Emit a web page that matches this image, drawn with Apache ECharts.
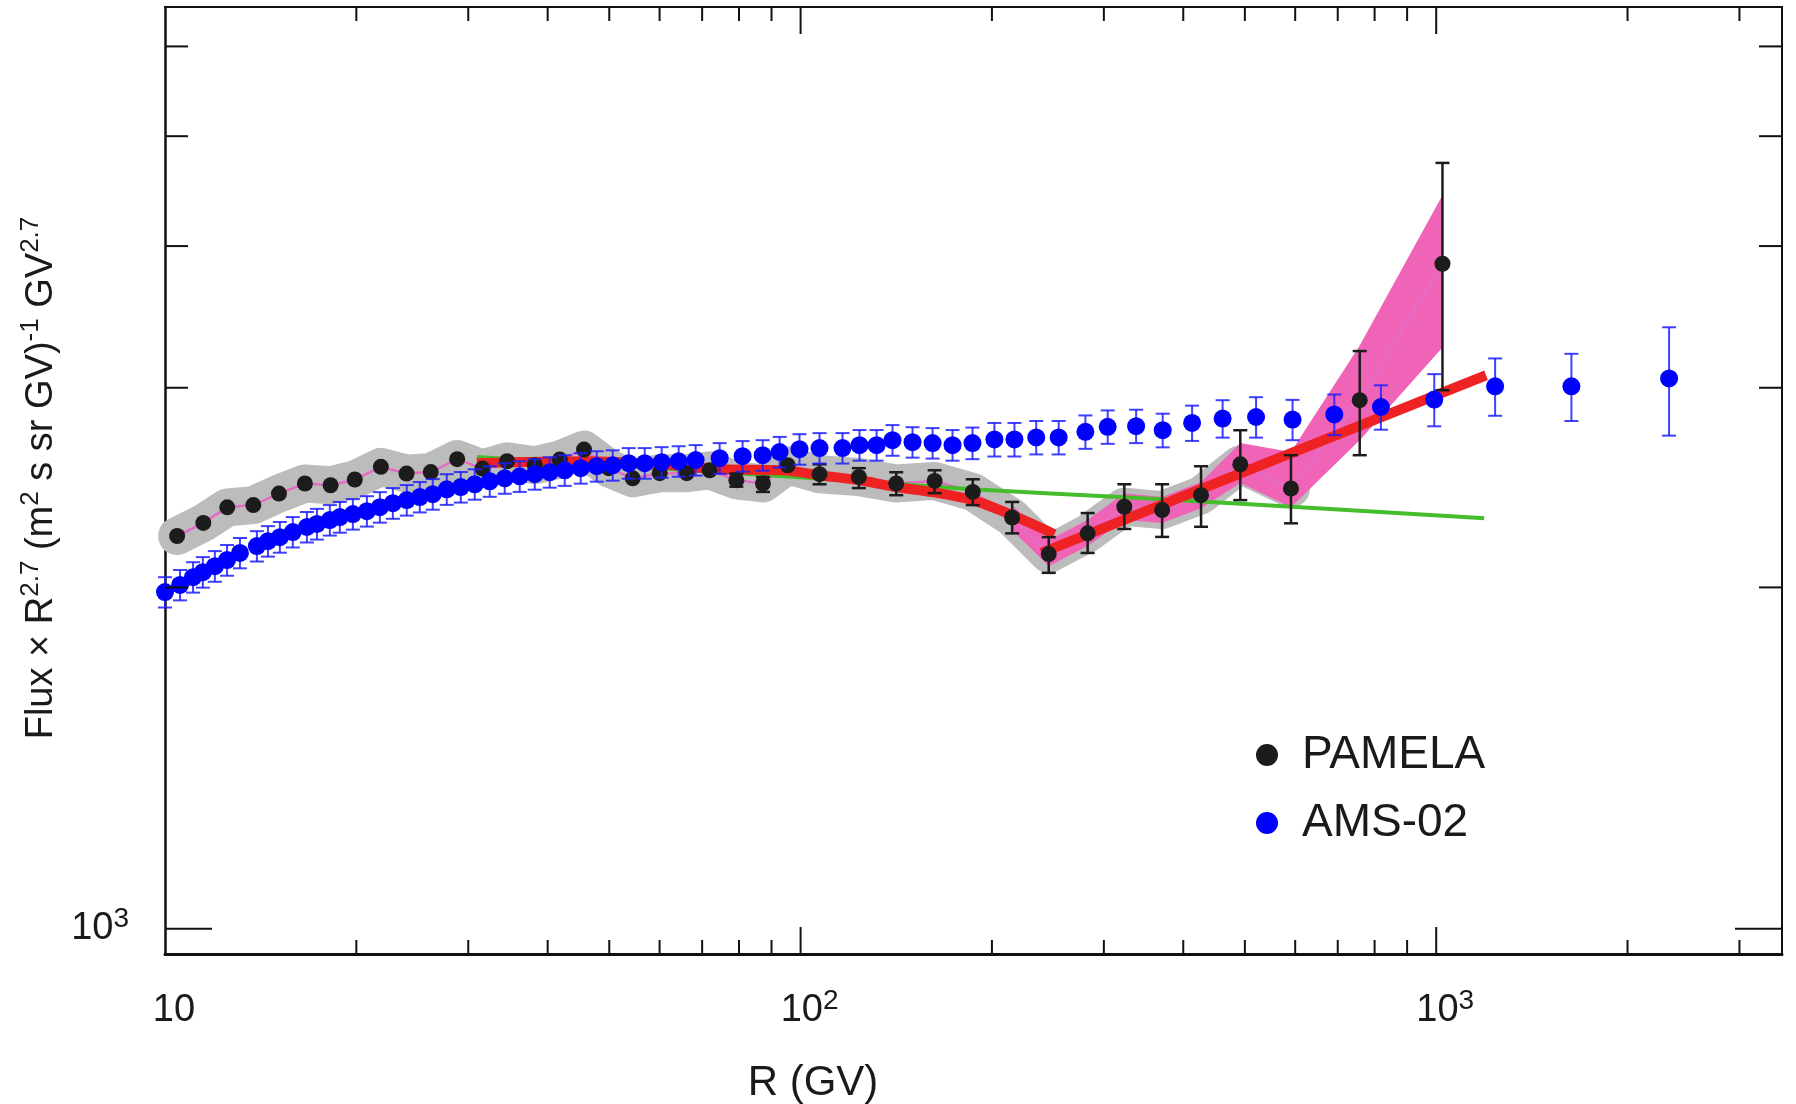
<!DOCTYPE html>
<html><head><meta charset="utf-8">
<script src="https://cdn.jsdelivr.net/npm/echarts@6/dist/echarts.min.js"></script>
<style>html,body{margin:0;padding:0;background:#fff}#chart{width:1796px;height:1104px}</style>
</head><body><div id="chart"></div>
<script>
// ---------------- data ----------------
const xMin = 10, xMax = 3500, yMin = 950, yMax = 6500;
const xMajorTicks = [100, 1000];
const xMinorTicks = [20,30,40,50,60,70,80,90,200,300,400,500,600,700,800,900,2000,3000];
const yMajorTicks = [1000];
const yMinorTicks = [2000,3000,4000,5000,6000];

// PAMELA
const pamR = [10.45,11.49,12.53,13.77,15.11,16.60,18.22,19.89,21.86,23.99,26.19,28.82,31.59,34.53,38.17,41.79,45.63,49.90,54.43,60.03,66.21,71.93,79.23,87.25,95.41,107.1,123.5,141.4,162.5,186.6,215.2,245.7,282.9,323.1,370.5,426.6,491.8,590.9,758.0,1023];
const pamF = [2220,2280,2353,2364,2420,2470,2461,2490,2555,2520,2528,2595,2546,2584,2563,2593,2646,2548,2496,2522,2522,2537,2486,2470,2563,2517,2503,2470,2483,2428,2305,2140,2232,2356,2340,2412,2568,2445,2925,3859];
const pamLo = [null,null,null,null,null,null,null,null,null,null,null,null,null,null,null,null,null,null,null,null,null,null,2454,2428,null,2466,2447,2412,2422,2364,2232,2060,2145,2252,2216,2262,2388,2278,2616,2985];
const pamHi = [null,null,null,null,null,null,null,null,null,null,null,null,null,null,null,null,null,null,null,null,null,null,2520,2503,null,2568,2548,2527,2537,2491,2379,2215,2326,2466,2466,2558,2752,2616,3232,4736];
const pamBandCount = 38; // grey uncertainty band covers the first 38 points

// PAMELA high-rigidity band
const pinkR  = [215.2,245.7,282.9,323.1,370.5,426.6,491.8,590.9,758.0,1023];
const pinkHi = [2364,2202,2293,2422,2403,2477,2681,2633,3269,4434];
const pinkLo = [2247,2088,2175,2293,2279,2349,2472,2354,2697,3256];

// AMS-02
const amsR = [10.0,10.56,11.07,11.47,11.98,12.52,13.12,13.95,14.52,15.16,15.89,16.72,17.34,18.17,18.84,19.75,20.78,21.78,22.83,24.01,25.17,26.38,27.75,29.20,30.71,32.43,34.24,36.15,38.17,40.30,42.55,45.09,47.78,50.63,53.65,56.85,60.45,64.29,68.37,74.59,81.05,87.17,92.68,99.6,107.1,116.4,123.8,131.7,139.5,150.0,161.3,173.4,186.4,201.8,217.0,234.8,254.7,280.6,304.2,337.2,371.3,413.0,461.3,520.7,594.3,691.3,818.5,993,1238,1632,2325];
const amsF = [1981,2010,2042,2063,2088,2114,2145,2175,2197,2215,2238,2261,2275,2293,2307,2321,2335,2354,2373,2388,2403,2417,2441,2452,2466,2481,2496,2506,2517,2527,2537,2548,2558,2563,2574,2574,2579,2584,2590,2600,2611,2616,2633,2648,2654,2654,2670,2670,2697,2686,2681,2670,2681,2701,2701,2712,2712,2743,2771,2775,2752,2793,2818,2827,2812,2842,2885,2929,3009,3009,3057];
const amsErr = [61,62,63,64,65,66,66,67,68,69,69,70,71,71,72,72,72,73,74,74,74,75,76,76,76,77,77,78,78,78,79,79,79,79,80,80,80,80,80,81,81,81,82,82,82,82,83,83,84,83,83,83,86,92,92,92,92,93,94,94,94,100,107,116,115,117,130,155,175,205,335];

// fits
const redR1 = [30.95,46.08,60.03,75.42,93.7,107.1,123.8,141.4,161.3,186.4,215.4,250.8];
const redF1 = [2574,2584,2568,2542,2537,2512,2486,2452,2427,2388,2316,2228];
const redR2 = [239.3,1198];
const redF2 = [2145,3077];
const greenR = [30.95,99.6,186.4,317.4,508.2,1190];
const greenF = [2606,2502,2441,2403,2368,2302];

// ---------------- chart ----------------
const FONT = "'Liberation Sans', Arial, Helvetica, sans-serif";
const zip = (a, b) => a.map((v, i) => [v, b[i]]);

function errRender(color, lw, cap) {
  return function (params, api) {
    const x = api.value(0), lo = api.value(1), hi = api.value(2);
    const a = api.coord([x, hi]), b = api.coord([x, lo]);
    const st = { stroke: color, lineWidth: lw };
    return { type: 'group', children: [
      { type: 'line', shape: { x1: a[0], y1: a[1], x2: b[0], y2: b[1] }, style: st },
      { type: 'line', shape: { x1: a[0] - cap / 2, y1: a[1], x2: a[0] + cap / 2, y2: a[1] }, style: st },
      { type: 'line', shape: { x1: b[0] - cap / 2, y1: b[1], x2: b[0] + cap / 2, y2: b[1] }, style: st }
    ]};
  };
}

const pamErrData = [];
pamR.forEach((r, i) => { if (pamLo[i] != null) pamErrData.push([r, pamLo[i], pamHi[i]]); });
const amsErrData = amsR.map((r, i) => [r, amsF[i] - amsErr[i], amsF[i] + amsErr[i]]);

function logLabel(v) {
  const l = Math.log10(v), e = Math.round(l);
  if (Math.abs(l - e) > 1e-6) return '';
  return e === 1 ? '{b|10}' : '{b|10}{s|' + e + '}';
}
const labelRich = {
  b: { fontSize: 38, lineHeight: 47, fontFamily: FONT, color: '#1a1a1a' },
  s: { fontSize: 28, lineHeight: 20, verticalAlign: 'top', fontFamily: FONT, color: '#1a1a1a' }
};

const axisLineStyle = (w) => ({ show: true, lineStyle: { color: '#111', width: w } });

const option = {
  animation: false,
  backgroundColor: '#fff',
  grid: { left: 165, right: 14, top: 7, bottom: 150, containLabel: false },
  xAxis: [
    { type: 'log', min: xMin, max: xMax, position: 'bottom', axisLine: axisLineStyle(3), axisTick: { show: false },
      splitLine: { show: false }, minorTick: { show: false },
      axisLabel: { show: true, margin: 33, formatter: logLabel, rich: labelRich, padding: [0, 0, 0, 18], showMinLabel: true, showMaxLabel: false } },
    { type: 'log', min: xMin, max: xMax, position: 'top', axisLine: axisLineStyle(2), axisTick: { show: false },
      splitLine: { show: false }, axisLabel: { show: false } }
  ],
  yAxis: [
    { type: 'log', min: yMin, max: yMax, position: 'left', axisLine: axisLineStyle(2.5), axisTick: { show: false },
      splitLine: { show: false },
      axisLabel: { show: true, margin: 36, formatter: logLabel, rich: labelRich, showMinLabel: false, showMaxLabel: false } },
    { type: 'log', min: yMin, max: yMax, position: 'right', axisLine: axisLineStyle(2), axisTick: { show: false },
      splitLine: { show: false }, axisLabel: { show: false } }
  ],
  legend: {
    left: 1251, top: 727, orient: 'vertical', itemWidth: 60, itemHeight: 22, itemGap: 22,
    selectedMode: false,
    data: [{ name: 'PAMELA', icon: 'circle' }, { name: 'AMS-02', icon: 'circle' }],
    textStyle: { fontSize: 46, lineHeight: 46, color: '#1a1a1a', fontFamily: FONT }
  },
  graphic: [
    { type: 'text', x: 813, y: 1083, silent: true,
      style: { text: 'R (GV)', fontSize: 42, fontFamily: FONT, fill: '#1a1a1a', align: 'center', verticalAlign: 'middle' } },
    { type: 'text', x: 42, y: 478, rotation: Math.PI / 2, silent: true,
      style: { text: 'Flux \u00d7 R{s|2.7} (m{s|2} s sr GV){s|-1} GV{s|2.7}', fontSize: 38, lineHeight: 48, fontFamily: FONT, fill: '#1a1a1a',
        align: 'center', verticalAlign: 'middle',
        rich: { s: { fontSize: 26, lineHeight: 20, verticalAlign: 'top', fontFamily: FONT, fill: '#1a1a1a' } } } }
  ],
  series: [
    { type: 'line', name: 'band', data: zip(pamR, pamF).slice(0, pamBandCount), symbol: 'none', silent: true, z: 1,
      lineStyle: { color: '#bcbcbc', width: 38, cap: 'round', join: 'round' } },
    { type: 'custom', name: 'pinkband', silent: true, z: 2, clip: false,
      data: [[pinkR[0], pinkLo[0]]],
      renderItem: (params, api) => {
        const up = pinkR.map((r, i) => api.coord([r, pinkHi[i]]));
        const dn = pinkR.map((r, i) => api.coord([r, pinkLo[i]])).reverse();
        return { type: 'polygon', shape: { points: up.concat(dn) }, style: { fill: '#f064b8' } };
      } },
    { type: 'line', name: 'pamline', data: zip(pamR, pamF), symbol: 'none', silent: true, z: 3,
      lineStyle: { color: '#e56cc6', width: 2.5 } },
    { type: 'line', name: 'green', data: zip(greenR, greenF), symbol: 'none', silent: true, z: 4, smooth: 0.3,
      lineStyle: { color: '#46bd2c', width: 4 } },
    { type: 'line', name: 'red1', data: zip(redR1, redF1), symbol: 'none', silent: true, z: 5, smooth: 0.3,
      lineStyle: { color: '#ee2222', width: 10 } },
    { type: 'line', name: 'red2', data: zip(redR2, redF2), symbol: 'none', silent: true, z: 5,
      lineStyle: { color: '#ee2222', width: 10 } },
    { type: 'custom', name: 'pamerr', data: pamErrData, encode: { x: 0, y: [1, 2] }, z: 6, silent: true, clip: false,
      renderItem: errRender('#1c1c1c', 2.5, 14) },
    { type: 'scatter', name: 'PAMELA', data: zip(pamR, pamF), symbol: 'circle', symbolSize: 16, z: 7,
      itemStyle: { color: '#1c1c1c', opacity: 1 } },
    { type: 'custom', name: 'amserr', data: amsErrData, encode: { x: 0, y: [1, 2] }, z: 8, silent: true, clip: false,
      renderItem: errRender('rgba(30,30,255,0.85)', 2, 14) },
    { type: 'scatter', name: 'AMS-02', data: zip(amsR, amsF), symbol: 'circle', symbolSize: 18, z: 9,
      itemStyle: { color: '#0000ff', opacity: 1 } },
    { type: 'custom', name: 'ticks', data: [[100, 2000]], z: 10, silent: true, clip: false,
      renderItem: (params, api) => {
        const cs = params.coordSys;
        const L = cs.x, R = cs.x + cs.width, T = cs.y, B = cs.y + cs.height;
        const st = { stroke: '#111', lineWidth: 2 };
        const ch = [];
        const ln = (x1, y1, x2, y2) => ch.push({ type: 'line', shape: { x1, y1, x2, y2 }, style: st });
        xMajorTicks.forEach(v => { const p = api.coord([v, yMin])[0]; ln(p, B, p, B - 27); ln(p, T, p, T + 27); });
        xMinorTicks.forEach(v => { const p = api.coord([v, yMin])[0]; ln(p, B, p, B - 14); ln(p, T, p, T + 14); });
        yMajorTicks.forEach(v => { const p = api.coord([xMin, v])[1]; ln(L, p, L + 47, p); ln(R, p, R - 47, p); });
        yMinorTicks.forEach(v => { const p = api.coord([xMin, v])[1]; ln(L, p, L + 23, p); ln(R, p, R - 23, p); });
        return { type: 'group', children: ch };
      } }
  ]
};
const chart = echarts.init(document.getElementById('chart'));
chart.setOption(option);
</script>
</body></html>
